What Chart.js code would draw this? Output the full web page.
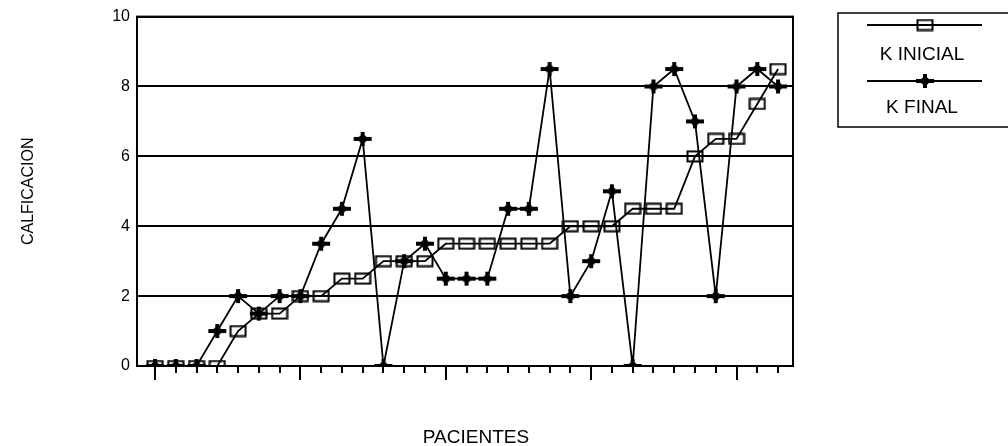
<!DOCTYPE html>
<html>
<head>
<meta charset="utf-8">
<script src="https://cdn.jsdelivr.net/npm/chart.js@4"></script>
<style>
   html, body { margin: 0; padding: 0; background: #fff; }
</style>
</head>
<body>
<canvas id="chart" width="1008" height="446"></canvas>
<script>
// -----------------------------------------------------------------------------
// datas
// -----------------------------------------------------------------------------
var PACIENTES = [1, 2, 3, 4, 5, 6, 7, 8, 9, 10, 11, 12, 13, 14, 15, 16,
                 17, 18, 19, 20, 21, 22, 23, 24, 25, 26, 27, 28, 29, 30, 31];
var K_INICIAL = [0, 0, 0, 0, 1, 1.5, 1.5, 2, 2, 2.5, 2.5, 3, 3, 3, 3.5, 3.5,
                 3.5, 3.5, 3.5, 3.5, 4, 4, 4, 4.5, 4.5, 4.5, 6, 6.5, 6.5, 7.5, 8.5];
var K_FINAL   = [0, 0, 0, 1, 2, 1.5, 2, 2, 3.5, 4.5, 6.5, 0, 3, 3.5, 2.5, 2.5,
                 2.5, 4.5, 4.5, 8.5, 2, 3, 5, 0, 8, 8.5, 7, 2, 8, 8.5, 8];
var Y_TICKS   = [0, 2, 4, 6, 8, 10];
var MAJOR_EVERY = 7;

var FONT = '"Liberation Sans", Arial, sans-serif';

// hollow rectangle marker (K INICIAL)
var squareMarker = function() {
   var c = document.createElement('canvas');
   c.width = 18; c.height = 13;
   var ctx = c.getContext('2d');
   ctx.strokeStyle = '#000';
   ctx.lineWidth = 2;
   ctx.strokeRect(1.5, 1.5, 15, 10);
   return c;
};

// bold plus marker (K FINAL)
var crossMarker = function() {
   var c = document.createElement('canvas');
   c.width = 20; c.height = 16;
   var ctx = c.getContext('2d');
   ctx.fillStyle = '#000';
   ctx.fillRect(1, 6, 18, 4);
   ctx.fillRect(8, 1, 4, 14);
   ctx.beginPath();
   ctx.arc(10, 8, 4, 0, Math.PI * 2);
   ctx.fill();
   return c;
};

var toPoints = function(values) {
   return values.map(function(v, i) { return {x: i, y: v}; });
};

// frame, x tick marks and the boxed legend
var framePlugin = {
   id: 'frame',
   afterDraw: function(chart) {
      var ctx = chart.ctx;
      var a = chart.chartArea;
      var xs = chart.scales.x;
      ctx.save();
      ctx.strokeStyle = '#000';
      ctx.lineWidth = 2;
      ctx.strokeRect(a.left, a.top, a.right - a.left, a.bottom - a.top);

      // tick marks under the x axis, a long one every 7 patients
      for (var i = 0; i < PACIENTES.length; i++) {
         var x = Math.round(xs.getPixelForValue(i));
         var len = (i % MAJOR_EVERY === 0) ? 14 : 7;
         ctx.beginPath();
         ctx.moveTo(x, a.bottom);
         ctx.lineTo(x, a.bottom + len);
         ctx.stroke();
      }

      // legend box
      ctx.lineWidth = 1.5;
      ctx.strokeRect(838, 13, 180, 114);
      var rows = [{y: 25, ty: 55}, {y: 81, ty: 108}];
      chart.data.datasets.forEach(function(ds, k) {
         ctx.lineWidth = 1.8;
         ctx.beginPath();
         ctx.moveTo(867, rows[k].y);
         ctx.lineTo(982, rows[k].y);
         ctx.stroke();
         var img = ds.pointStyle;
         ctx.drawImage(img, 925 - img.width / 2, rows[k].y - img.height / 2);
         ctx.fillStyle = '#000';
         ctx.font = '19px ' + FONT;
         ctx.textAlign = 'center';
         ctx.textBaseline = 'middle';
         ctx.fillText(ds.label, 922, rows[k].ty);
      });

      // x title, drawn a bit right of the plot centre as in the original
      ctx.font = '19px ' + FONT;
      ctx.textAlign = 'center';
      ctx.textBaseline = 'middle';
      ctx.fillText('PACIENTES', 476, 438);
      ctx.restore();
   }
};

var chart = new Chart(document.getElementById('chart'), {
   type: 'line',
   data: {
      datasets: [{
         label: 'K INICIAL',
         data: toPoints(K_INICIAL),
         borderColor: '#000',
         borderWidth: 1.8,
         pointStyle: squareMarker(),
         tension: 0
      }, {
         label: 'K FINAL',
         data: toPoints(K_FINAL),
         borderColor: '#000',
         borderWidth: 1.8,
         pointStyle: crossMarker(),
         tension: 0
      }]
   },
   options: {
      responsive: false,
      animation: false,
      devicePixelRatio: 1,
      layout: {
         padding: {top: 15, right: 215, left: 0, bottom: 0}
      },
      plugins: {
         legend: {display: false},
         tooltip: {enabled: false}
      },
      scales: {
         x: {
            type: 'linear',
            min: -0.867,
            max: 30.72,
            afterFit: function(s) { s.height = 80; },
            grid: {display: false},
            border: {display: true, color: '#000', width: 2},
            ticks: {display: false}
         },
         y: {
            min: Y_TICKS[0],
            max: Y_TICKS[Y_TICKS.length - 1],
            afterFit: function(s) { s.width = 137; },
            afterBuildTicks: function(s) {
               s.ticks = Y_TICKS.map(function(v) { return {value: v}; });
            },
            grid: {color: '#000', lineWidth: 2, drawTicks: false},
            border: {display: true, color: '#000', width: 2},
            ticks: {
               color: '#000',
               padding: 7,
               font: {family: FONT, size: 16}
            },
            title: {
               display: true,
               text: 'CALFICACION',
               color: '#000',
               font: {family: FONT, size: 16},
               padding: {top: 19, bottom: 0}
            }
         }
      }
   },
   plugins: [framePlugin]
});
</script>
</body>
</html>
